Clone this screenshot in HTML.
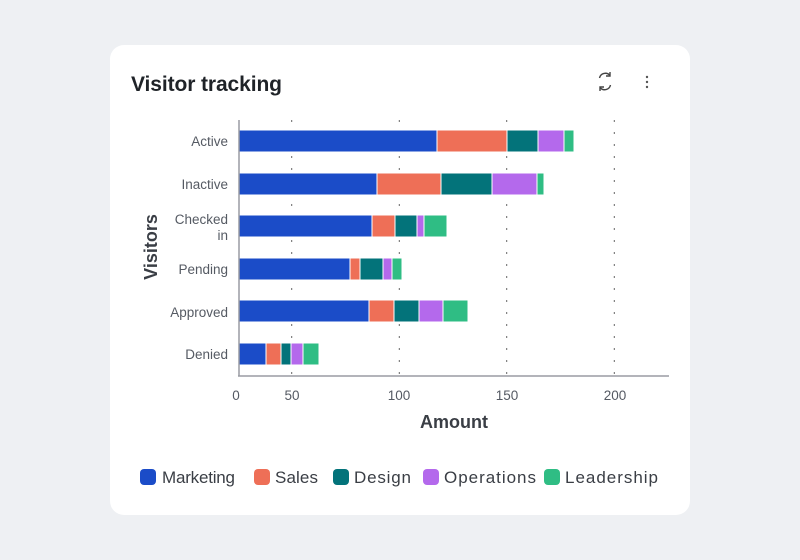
<!DOCTYPE html>
<html><head><style>
body{margin:0;background:#eef0f3;}
svg{display:block;font-family:"Liberation Sans",sans-serif;}
</style></head><body>
<svg width="800" height="560" viewBox="0 0 800 560">
<rect x="0" y="0" width="800" height="560" fill="#eef0f3"/>
<rect x="110" y="45" width="580" height="470" rx="14" fill="#fff"/>
<text x="131" y="91" font-size="21" font-weight="bold" fill="#1f2328" textLength="151">Visitor tracking</text>
<g fill="none" stroke="#444" stroke-width="1.4">
<path d="M599.5 78 a6 6 0 0 1 10.5 -2.5 M610.5 85 a6 6 0 0 1 -10.5 2.5"/>
<path d="M610 72 v4 h-4 M600 91 v-4 h4"/>
</g>
<g fill="#555"><circle cx="647" cy="77" r="1.2"/><circle cx="647" cy="82" r="1.2"/><circle cx="647" cy="87" r="1.2"/></g>
<g stroke="#666" stroke-width="1" stroke-dasharray="2,10">
<line x1="291.7" y1="120" x2="291.7" y2="375"/>
<line x1="399.3" y1="120" x2="399.3" y2="375"/>
<line x1="506.7" y1="120" x2="506.7" y2="375"/>
<line x1="614.3" y1="120" x2="614.3" y2="375"/>
</g>
<g stroke="#fff" stroke-width="1">
<rect x="239" y="130" width="198" height="22" fill="#1b4cc8"/><rect x="437" y="130" width="70" height="22" fill="#ee6f57"/><rect x="507" y="130" width="31" height="22" fill="#03737a"/><rect x="538" y="130" width="26" height="22" fill="#b469ec"/><rect x="564" y="130" width="10" height="22" fill="#2fbd84"/>
<rect x="239" y="173" width="138" height="22" fill="#1b4cc8"/><rect x="377" y="173" width="64" height="22" fill="#ee6f57"/><rect x="441" y="173" width="51" height="22" fill="#03737a"/><rect x="492" y="173" width="45" height="22" fill="#b469ec"/><rect x="537" y="173" width="7" height="22" fill="#2fbd84"/>
<rect x="239" y="215" width="133" height="22" fill="#1b4cc8"/><rect x="372" y="215" width="23" height="22" fill="#ee6f57"/><rect x="395" y="215" width="22" height="22" fill="#03737a"/><rect x="417" y="215" width="7" height="22" fill="#b469ec"/><rect x="424" y="215" width="23" height="22" fill="#2fbd84"/>
<rect x="239" y="258" width="111" height="22" fill="#1b4cc8"/><rect x="350" y="258" width="10" height="22" fill="#ee6f57"/><rect x="360" y="258" width="23" height="22" fill="#03737a"/><rect x="383" y="258" width="9" height="22" fill="#b469ec"/><rect x="392" y="258" width="10" height="22" fill="#2fbd84"/>
<rect x="239" y="300" width="130" height="22" fill="#1b4cc8"/><rect x="369" y="300" width="25" height="22" fill="#ee6f57"/><rect x="394" y="300" width="25" height="22" fill="#03737a"/><rect x="419" y="300" width="24" height="22" fill="#b469ec"/><rect x="443" y="300" width="25" height="22" fill="#2fbd84"/>
<rect x="239" y="343" width="27" height="22" fill="#1b4cc8"/><rect x="266" y="343" width="15" height="22" fill="#ee6f57"/><rect x="281" y="343" width="10" height="22" fill="#03737a"/><rect x="291" y="343" width="12" height="22" fill="#b469ec"/><rect x="303" y="343" width="16" height="22" fill="#2fbd84"/>
</g>
<line x1="239" y1="120" x2="239" y2="376" stroke="#9a9ca3" stroke-width="1.5"/>
<line x1="238" y1="376" x2="669" y2="376" stroke="#9a9ca3" stroke-width="1.5"/>
<g font-size="13.5" fill="#555a63" text-anchor="end">
<text x="228" y="146">Active</text>
<text x="228" y="189">Inactive</text>
<text x="228" y="224">Checked</text>
<text x="228" y="240">in</text>
<text x="228" y="274">Pending</text>
<text x="228" y="317">Approved</text>
<text x="228" y="359">Denied</text>
</g>
<g font-size="13.5" fill="#555a63" text-anchor="middle">
<text x="236" y="400">0</text>
<text x="292" y="400">50</text>
<text x="399" y="400">100</text>
<text x="507" y="400">150</text>
<text x="615" y="400">200</text>
</g>
<text x="454" y="428" font-size="18" font-weight="bold" fill="#3a3e45" text-anchor="middle">Amount</text>
<text transform="translate(157,247) rotate(-90)" font-size="18" font-weight="bold" fill="#3a3e45" text-anchor="middle">Visitors</text>
<g font-size="17" fill="#3a3e45">
<rect x="140" y="469" width="16" height="16" rx="4" fill="#1b4cc8"/><text x="162" y="483" textLength="73">Marketing</text>
<rect x="254" y="469" width="16" height="16" rx="4" fill="#ee6f57"/><text x="275" y="483" textLength="43">Sales</text>
<rect x="333" y="469" width="16" height="16" rx="4" fill="#03737a"/><text x="354" y="483" textLength="57">Design</text>
<rect x="423" y="469" width="16" height="16" rx="4" fill="#b469ec"/><text x="444" y="483" textLength="92">Operations</text>
<rect x="544" y="469" width="16" height="16" rx="4" fill="#2fbd84"/><text x="565" y="483" textLength="93">Leadership</text>
</g>
</svg>
</body></html>
